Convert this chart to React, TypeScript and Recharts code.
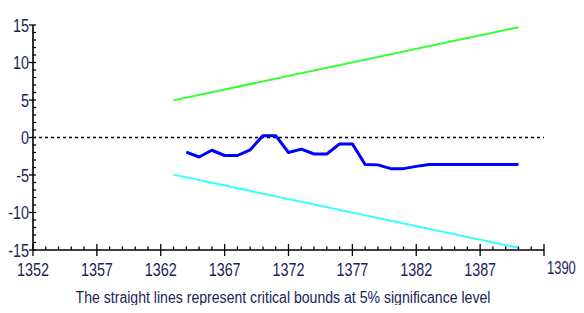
import { Line, LineChart, ReferenceLine, XAxis, YAxis } from 'recharts'

// recursive residuals CUSUM
const years = [
  1364, 1365, 1366, 1367, 1368, 1369, 1370, 1371, 1372, 1373, 1374, 1375, 1376, 1377,
  1378, 1379, 1380, 1381, 1382, 1383, 1384, 1385, 1386, 1387, 1388, 1389, 1390,
]
const cusum = [
  -1.95, -2.6, -1.7, -2.4, -2.4, -1.65, 0.25, 0.25, -2.0, -1.55, -2.2, -2.2, -0.85, -0.85,
  -3.6, -3.65, -4.15, -4.15, -3.85, -3.6, -3.6, -3.6, -3.6, -3.6, -3.6, -3.6, -3.6,
]

// 5% critical bounds (straight lines, endpoints only)
const boundYears = [1363, 1390]
const upperBound = [4.95, 14.7]
const lowerBound = [-4.95, -14.7]

const xMajorTicks = [1352, 1357, 1362, 1367, 1372, 1377, 1382, 1387, 1392]
const xEndLabel = '1390'
const yMajorTicks = [-15, -10, -5, 0, 5, 10, 15]
const caption = 'The straight lines represent critical bounds at 5% significance level'

const cusumData = years.map((year, i) => ({ year, value: cusum[i] }))
const upperData = boundYears.map((year, i) => ({ year, value: upperBound[i] }))
const lowerData = boundYears.map((year, i) => ({ year, value: lowerBound[i] }))

const xMinor = Array.from({ length: 41 }, (_, i) => 1352 + i)
const yMinor = Array.from({ length: 31 }, (_, i) => -15 + i)

const FONT = "'Liberation Sans', Arial, sans-serif"
const TEXT = '#1b2459'

// the original uses a narrow face, so squeeze a regular one
function NarrowText({ x, y, anchor, squeeze = 0.8, children }: any) {
  return (
    <text
      transform={`translate(${x},${y}) scale(${squeeze},1)`}
      textAnchor={anchor}
      fontFamily={FONT}
      fontSize={18}
      fill={TEXT}
    >
      {children}
    </text>
  )
}

function XTick(props: any) {
  const { x, y, payload } = props
  const v = payload.value
  const major = xMajorTicks.includes(v)
  const isEnd = v === 1392
  return (
    <g>
      <line x1={x} x2={x} y1={major ? y - 6 : y - 3.5} y2={major ? y + 6 : y} stroke="#000" strokeWidth={1.3} />
      {major && (
        <NarrowText
          x={isEnd ? x + 3 : x}
          y={isEnd ? y + 24 : y + 26}
          anchor={isEnd ? 'start' : 'middle'}
          squeeze={isEnd ? 0.72 : 0.8}
        >
          {isEnd ? xEndLabel : v}
        </NarrowText>
      )}
    </g>
  )
}

function YTick(props: any) {
  const { x, y, payload } = props
  const v = payload.value
  const major = yMajorTicks.includes(v)
  return (
    <g>
      <line x1={major ? x - 4 : x} x2={x + 3} y1={y} y2={y} stroke="#000" strokeWidth={1.3} />
      {major && (
        <NarrowText x={x - 4} y={y + 6.5} anchor="end">
          {v}
        </NarrowText>
      )}
    </g>
  )
}

export default function App() {
  return (
    <div style={{ position: 'relative', width: 584, height: 313, margin: -8, background: '#fff' }}>
      <LineChart width={584} height={313} margin={{ top: 25, right: 40, bottom: 33, left: 0 }}>
        <XAxis
          dataKey="year"
          type="number"
          domain={[1352, 1392]}
          ticks={xMinor}
          interval={0}
          tickSize={0}
          tickMargin={0}
          tick={<XTick />}
          axisLine={{ stroke: '#000', strokeWidth: 1.6 }}
          height={30}
          allowDuplicatedCategory={false}
        />
        <YAxis
          type="number"
          domain={[-15, 15]}
          ticks={yMinor}
          interval={0}
          tickSize={0}
          tickMargin={0}
          tick={<YTick />}
          axisLine={{ stroke: '#000', strokeWidth: 1.6 }}
          width={33}
        />
        <ReferenceLine y={0} stroke="#000" strokeWidth={1.6} strokeDasharray="3 3" />
        <Line data={upperData} dataKey="value" stroke="#33ff33" strokeWidth={2} dot={false} isAnimationActive={false} />
        <Line data={lowerData} dataKey="value" stroke="#33ffff" strokeWidth={2} dot={false} isAnimationActive={false} />
        <Line
          data={cusumData}
          dataKey="value"
          stroke="#0000ff"
          strokeWidth={3}
          strokeLinejoin="round"
          dot={false}
          isAnimationActive={false}
        />
      </LineChart>
      <div
        style={{
          position: 'absolute',
          left: 0,
          width: 566,
          top: 289,
          lineHeight: '18px',
          textAlign: 'center',
          fontFamily: FONT,
          fontSize: 16,
          color: TEXT,
          whiteSpace: 'nowrap',
          transform: 'scaleX(0.88)',
        }}
      >
        {caption}
      </div>
    </div>
  )
}
